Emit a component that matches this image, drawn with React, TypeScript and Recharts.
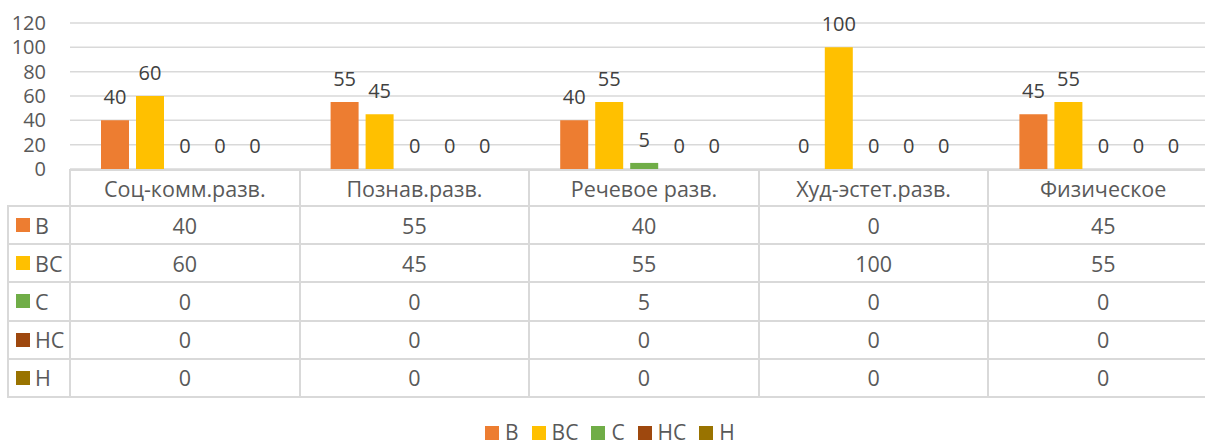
import React from "react";
import { BarChart, Bar, XAxis, YAxis, CartesianGrid, LabelList } from "recharts";

const categories = ["Соц-комм.разв.", "Познав.разв.", "Речевое разв.", "Худ-эстет.разв.", "Физическое"];
const seriesNames = ["В", "ВС", "С", "НС", "Н"];
const seriesColors = ["#ED7D31", "#FFC000", "#70AD47", "#9E480E", "#997300"];
const valuesV = [40, 55, 40, 0, 45];
const valuesVS = [60, 45, 55, 100, 55];
const valuesS = [0, 0, 5, 0, 0];
const valuesNS = [0, 0, 0, 0, 0];
const valuesN = [0, 0, 0, 0, 0];
const yTicks = [0, 20, 40, 60, 80, 100, 120];

const seriesValues = [valuesV, valuesVS, valuesS, valuesNS, valuesN];
const keys = ["s0", "s1", "s2", "s3", "s4"];

const data = categories.map((c, i) => {
  const row: Record<string, string | number> = { name: c };
  keys.forEach((k, j) => (row[k] = seriesValues[j][i]));
  return row;
});

const FONT = "'Open Sans', sans-serif";
const TEXT = "#595959";
const LINE = "#d9d9d9";
const FS = 20;
const FS_TABLE = 21.5;
const FS_LEGEND = 21;

const CHART_W = 1218;
const PLOT_LEFT = 70;
const PLOT_TOP = 23;
const PLOT_BOTTOM = 169;
const BAND = (CHART_W - PLOT_LEFT) / categories.length;
const TABLE_LEFT = 7;
const HEADER_BOTTOM = 206;
const ROW_H = 38.2;

export default function App() {
  const lines: React.ReactNode[] = [];
  const tableBottom = HEADER_BOTTOM + ROW_H * seriesNames.length;
  lines.push(
    <div key="h0" style={{ position: "absolute", left: PLOT_LEFT - 1, top: PLOT_BOTTOM, width: CHART_W - PLOT_LEFT + 1, height: 2, background: LINE }} />
  );
  for (let r = 0; r <= seriesNames.length; r++) {
    lines.push(
      <div key={"h" + (r + 1)} style={{ position: "absolute", left: TABLE_LEFT, top: HEADER_BOTTOM + r * ROW_H - 1, width: CHART_W - TABLE_LEFT, height: 2, background: LINE }} />
    );
  }
  lines.push(
    <div key="v-left" style={{ position: "absolute", left: TABLE_LEFT, top: HEADER_BOTTOM - 1, width: 2, height: tableBottom - HEADER_BOTTOM + 2, background: LINE }} />
  );
  for (let c = 0; c <= categories.length; c++) {
    lines.push(
      <div key={"v" + c} style={{ position: "absolute", left: PLOT_LEFT - 1 + c * BAND, top: PLOT_BOTTOM, width: 2, height: tableBottom - PLOT_BOTTOM + 1, background: LINE }} />
    );
  }

  const cells: React.ReactNode[] = [];
  categories.forEach((c, i) => {
    cells.push(
      <div key={"hd" + i} style={{ position: "absolute", left: PLOT_LEFT + i * BAND, top: PLOT_BOTTOM + 2, width: BAND, height: HEADER_BOTTOM - PLOT_BOTTOM - 2, display: "flex", alignItems: "center", justifyContent: "center", color: TEXT, fontSize: FS_TABLE }}>
        {c}
      </div>
    );
  });
  seriesNames.forEach((s, r) => {
    const top = HEADER_BOTTOM + r * ROW_H;
    cells.push(
      <div key={"lab" + r} style={{ position: "absolute", left: 16, top, height: ROW_H, display: "flex", alignItems: "center", color: TEXT, fontSize: FS_TABLE }}>
        <span style={{ display: "inline-block", width: 14, height: 14, background: seriesColors[r], marginRight: 5 }} />
        {s}
      </div>
    );
    categories.forEach((c, i) => {
      cells.push(
        <div key={"c" + r + "-" + i} style={{ position: "absolute", left: PLOT_LEFT + i * BAND, top, width: BAND, height: ROW_H, display: "flex", alignItems: "center", justifyContent: "center", color: TEXT, fontSize: FS_TABLE }}>
          {seriesValues[r][i]}
        </div>
      );
    });
  });

  return (
    <div style={{ position: "absolute", left: 0, top: 0, width: 1205, height: 441, overflow: "hidden", background: "#fff", fontFamily: FONT }}>
      <style>{"body{margin:0}"}</style>
      <div style={{ position: "absolute", left: 0, top: 0 }}>
        <BarChart
          width={CHART_W}
          height={PLOT_BOTTOM + 30}
          data={data}
          margin={{ top: PLOT_TOP, right: 0, bottom: 30, left: 0 }}
          barCategoryGap={31}
          barGap={7}
        >
          <CartesianGrid vertical={false} stroke={LINE} strokeWidth={1.5} />
          <XAxis dataKey="name" hide />
          <YAxis
            width={PLOT_LEFT}
            domain={[0, 120]}
            ticks={yTicks}
            axisLine={false}
            tickLine={false}
            tickSize={0}
            tickMargin={24}
            tick={{ fill: TEXT, fontSize: FS, fontFamily: FONT }}
            interval={0}
          />
          {keys.map((k, j) => (
            <Bar key={k} dataKey={k} name={seriesNames[j]} fill={seriesColors[j]} isAnimationActive={false} minPointSize={0.01}>
              <LabelList dataKey={k} position="top" offset={16} fill="#404040" fontSize={FS} fontFamily={FONT} />
            </Bar>
          ))}
        </BarChart>
      </div>
      {lines}
      {cells}
      <div style={{ position: "absolute", left: 485, top: 425, display: "flex", alignItems: "center", color: TEXT, fontSize: FS_LEGEND, lineHeight: "15px", whiteSpace: "nowrap" }}>
        {seriesNames.map((s, j) => (
          <span key={s} style={{ display: "inline-flex", alignItems: "center", marginRight: 13 }}>
            <span style={{ display: "inline-block", width: 14, height: 14, background: seriesColors[j], marginRight: 6 }} />
            {s}
          </span>
        ))}
      </div>
    </div>
  );
}
